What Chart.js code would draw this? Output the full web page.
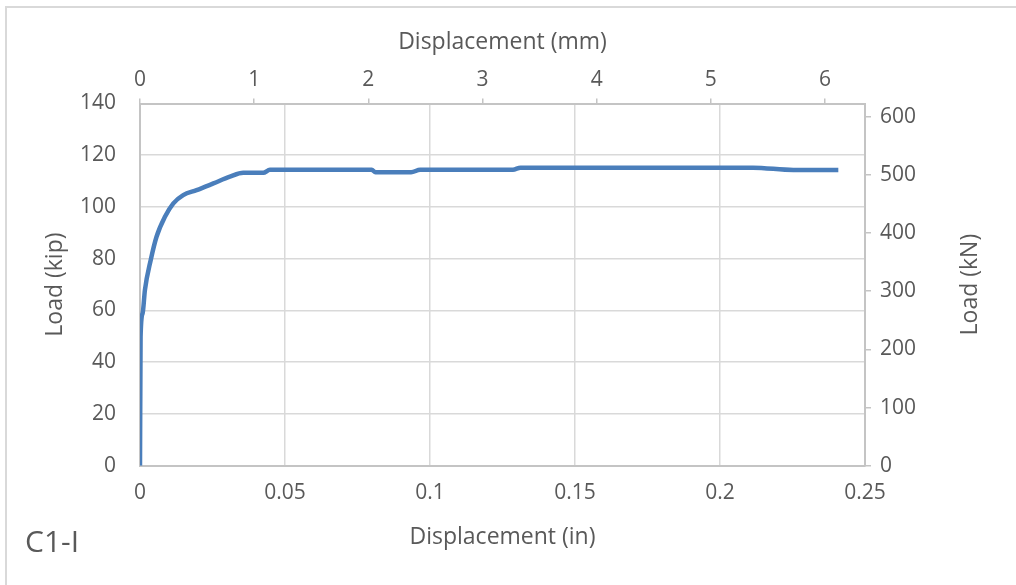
<!DOCTYPE html>
<html>
<head>
<meta charset="utf-8">
<script src="https://cdn.jsdelivr.net/npm/chart.js@4/dist/chart.umd.min.js"></script>
<style>
  html, body { margin: 0; padding: 0; background: #ffffff; }
  #wrap { position: relative; width: 1016px; height: 585px; }
</style>
</head>
<body>
<div id="wrap"><canvas id="c" width="1016" height="585"></canvas></div>
<script>
// ---- data ----
const dispIn  = [0, 0.0002, 0.0009, 0.0017, 0.0037, 0.0057, 0.0086, 0.0115, 0.0149, 0.0195, 0.0253, 0.031, 0.0356, 0.0425, 0.0448, 0.0799, 0.0812, 0.0935, 0.0966, 0.1286, 0.1312, 0.2114, 0.2253, 0.2408];
const loadKip = [0, 49.8, 58.9, 67.9, 79.5, 88.5, 96.2, 101.4, 104.6, 106.5, 109.1, 111.7, 113.2, 113.2, 114.4, 114.4, 113.4, 113.4, 114.4, 114.4, 115.2, 115.2, 114.3, 114.3];

const xTitleBottom = 'Displacement (in)';
const xTitleTop = 'Displacement (mm)';
const yTitleLeft = 'Load (kip)';
const yTitleRight = 'Load (kN)';
const specimenLabel = 'C1-I';

const kipMax = 140;
const inMax = 0.25;
const KN_PER_KIP = 4.44822;
const MM_PER_IN = 25.4;

const textColor = '#595959';
const gridColor = '#d9d9d9';
const borderColor = '#c4c4c4';
const lineColor = '#4a7ebb';
const FONT = "'Open Sans', 'Liberation Sans', sans-serif";

const points = dispIn.map((x, i) => ({ x: x, y: loadKip[i] }));
const plainNum = v => String(parseFloat(Number(v).toFixed(4)));

const extras = {
  id: 'extras',
  beforeDraw(chart) {
    const ctx = chart.ctx;
    ctx.save();
    ctx.strokeStyle = '#d9d9d9';
    ctx.lineWidth = 2;
    ctx.beginPath();
    ctx.moveTo(6, 585);
    ctx.lineTo(6, 7);
    ctx.lineTo(1016, 7);
    ctx.stroke();
    ctx.restore();
  },
  afterDraw(chart) {
    const ctx = chart.ctx;
    const area = chart.chartArea;
    ctx.save();
    ctx.fillStyle = textColor;
    ctx.font = '23px ' + FONT;
    ctx.textAlign = 'center';
    ctx.textBaseline = 'middle';
    ctx.translate(970, (area.top + area.bottom) / 2);
    ctx.rotate(-Math.PI / 2);
    ctx.fillText(yTitleRight, 0, 0);
    ctx.restore();

    ctx.save();
    ctx.fillStyle = textColor;
    ctx.font = '30px ' + FONT;
    ctx.textAlign = 'left';
    ctx.textBaseline = 'middle';
    ctx.fillText(specimenLabel, 25, 543);
    ctx.restore();
  }
};

new Chart(document.getElementById('c'), {
  type: 'scatter',
  data: {
    datasets: [{
      data: points,
      showLine: true,
      borderColor: lineColor,
      backgroundColor: lineColor,
      borderWidth: 4.5,
      pointRadius: 0,
      pointHoverRadius: 0,
      cubicInterpolationMode: 'monotone',
      xAxisID: 'x',
      yAxisID: 'y'
    }]
  },
  options: {
    responsive: false,
    animation: false,
    devicePixelRatio: 1,
    layout: { padding: 0 },
    plugins: { legend: { display: false }, tooltip: { enabled: false } },
    scales: {
      x: {
        type: 'linear', axis: 'x', position: 'bottom',
        min: 0, max: inMax,
        ticks: { stepSize: 0.05, color: textColor, font: { family: FONT, size: 21 }, padding: 14.7, maxRotation: 0, includeBounds: false, callback: plainNum },
        grid: { color: gridColor, lineWidth: 1.5, drawTicks: false },
        border: { color: borderColor, width: 2 },
        title: { display: true, text: xTitleBottom, color: textColor, font: { family: FONT, size: 23 }, padding: { top: 0, bottom: 34.2 } },
        afterFit: s => { s.height = 119.3; }
      },
      x2: {
        type: 'linear', axis: 'x', position: 'top',
        min: 0, max: inMax * MM_PER_IN,
        ticks: { stepSize: 1, color: textColor, font: { family: FONT, size: 21 }, padding: 5.9, maxRotation: 0, includeBounds: false, callback: plainNum },
        grid: { drawOnChartArea: false, drawTicks: true, tickLength: 5, color: borderColor, lineWidth: 1.5 },
        border: { color: borderColor, width: 2 },
        title: { display: true, text: xTitleTop, color: textColor, font: { family: FONT, size: 23 }, padding: { top: 28.2, bottom: 0 } },
        afterFit: s => { s.height = 103.5; }
      },
      y: {
        type: 'linear', axis: 'y', position: 'left',
        min: 0, max: kipMax,
        ticks: { stepSize: 20, color: textColor, font: { family: FONT, size: 21 }, padding: 24, includeBounds: false, callback: plainNum },
        grid: { color: gridColor, lineWidth: 1.5, drawTicks: false },
        border: { color: borderColor, width: 2 },
        title: { display: true, text: yTitleLeft, color: textColor, font: { family: FONT, size: 23 }, padding: { top: 41.2, bottom: 0 } },
        afterFit: s => { s.width = 140; }
      },
      y2: {
        type: 'linear', axis: 'y', position: 'right',
        min: 0, max: kipMax * KN_PER_KIP,
        ticks: { stepSize: 100, color: textColor, font: { family: FONT, size: 21 }, padding: 9, includeBounds: false, callback: plainNum },
        grid: { drawOnChartArea: false, drawTicks: true, tickLength: 6, color: borderColor, lineWidth: 1.5 },
        border: { color: borderColor, width: 2 },
        afterFit: s => { s.width = 151; }
      }
    }
  },
  plugins: [extras]
});
</script>
</body>
</html>
